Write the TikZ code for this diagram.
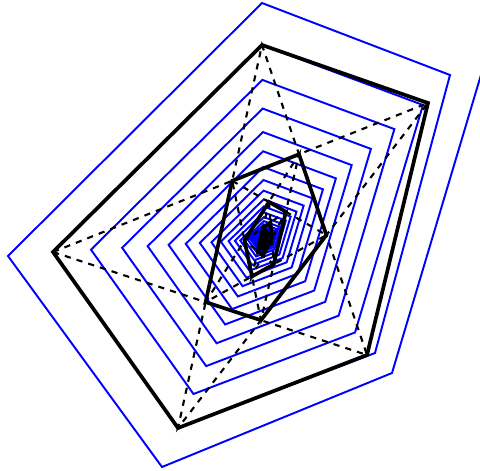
\documentclass[tikz,border=0pt]{standalone}
\usepackage{tikz}
\usetikzlibrary{calc}

\tikzset{
  spiral/.style={blue, line width=1.1pt},
  polyline/.style={black, line width=2.1pt},
  diagline/.style={black, line width=1.2pt, dash pattern=on 3.5pt off 3.5pt},
}

\begin{document}
\begin{tikzpicture}[x=0.02cm, y=-0.02cm]
  \useasboundingbox (0,0) rectangle (480,470);
  \clip (0,0) rectangle (480,470);
  % centre of the spiral and its base turn
  \coordinate (c) at (264,239);
  \coordinate (b0) at (375,353);
  \coordinate (b1) at (178,428);
  \coordinate (b2) at (53,252);
  \coordinate (b3) at (262,45);
  \coordinate (b4) at (423,105);
  \draw[spiral] (492,38) -- (392,373) -- (162,467) -- (8,256) -- (262,3) -- (450,75)
    \foreach \k [evaluate=\k as \fac using 0.82^\k] in {0,...,34} {
      -- ($(c)!\fac!(b0)$) -- ($(c)!\fac!(b1)$) -- ($(c)!\fac!(b2)$)
      -- ($(c)!\fac!(b3)$) -- ($(c)!\fac!(b4)$)
    };
  % first pentagon, then its images under the diagonal map
  \foreach \i/\px/\py in {0/53/252, 1/262/45, 2/428/103, 3/367/355, 4/178/428}
    \coordinate (P1\i) at (\px,\py);
  \foreach \n in {1,...,5} {
    \pgfmathtruncatemacro\m{\n+1}
    \foreach \i in {0,...,4} {
      \pgfmathtruncatemacro\p{mod(\i+4,5)}
      \pgfmathtruncatemacro\q{mod(\i+1,5)}
      \pgfmathtruncatemacro\r{mod(\i+2,5)}
      \coordinate (P\m\i) at (intersection cs: first line={(P\n\p)--(P\n\q)},
                                               second line={(P\n\i)--(P\n\r)});
    }
  }
  \foreach \n in {1,...,5}
    \draw[diagline] (P\n0) -- (P\n2) -- (P\n4) -- (P\n1) -- (P\n3) -- cycle;
  \foreach \n in {1,...,6}
    \draw[polyline] (P\n0) -- (P\n1) -- (P\n2) -- (P\n3) -- (P\n4) -- cycle;
\end{tikzpicture}
\end{document}
